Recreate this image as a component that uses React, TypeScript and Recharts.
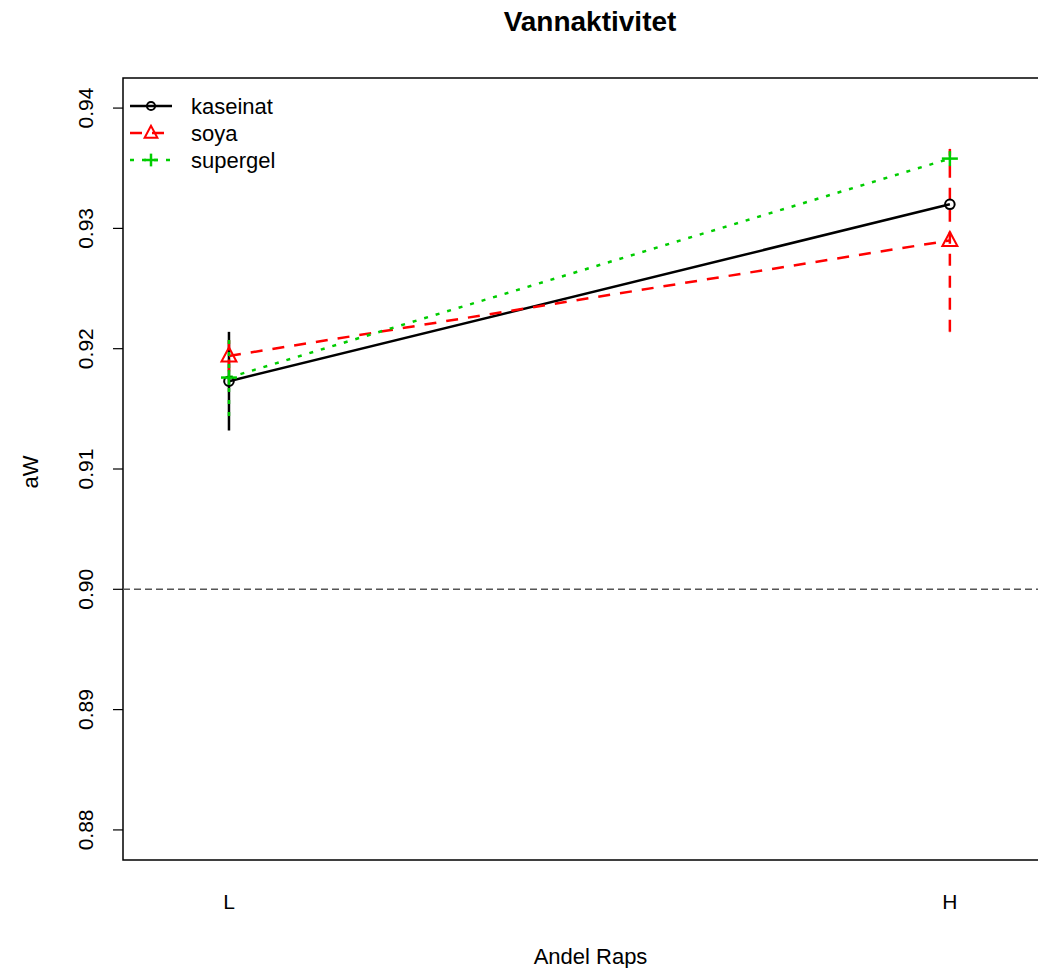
import React from 'react';
import {
  LineChart,
  Line,
  XAxis,
  YAxis,
  ReferenceLine,
  ReferenceArea,
  ErrorBar,
  Legend,
  Label,
} from 'recharts';

// factor levels on the x axis (interaction plot, positions 1 and 2)
const levels = ['L', 'H'];
const levelPos = [1, 2];

// mean aW per group, with half-width of the error bar
const kaseinat = [0.9173, 0.932];
const kaseinatErr = [0.0041, 0];
const soya = [0.9194, 0.929];
const soyaErr = [0.0013, 0.0076];
const supergel = [0.9176, 0.9358];
const supergelErr = [0.0032, 0];

const yTicks = [0.88, 0.89, 0.9, 0.91, 0.92, 0.93, 0.94];
const yDomain = [0.8775, 0.9425];
const xDomain = [0.853, 2.15];
const refLevel = 0.9;

const FONT = '"Liberation Sans", Arial, sans-serif';

const data = levels.map((lv, i) => ({
  x: levelPos[i],
  level: lv,
  kaseinat: kaseinat[i],
  kaseinatErr: kaseinatErr[i],
  soya: soya[i],
  soyaErr: soyaErr[i],
  supergel: supergel[i],
  supergelErr: supergelErr[i],
}));

type Marker = 'circle' | 'triangle' | 'plus';

const series: Array<{ key: string; name: string; color: string; dash?: string; marker: Marker }> = [
  { key: 'kaseinat', name: 'kaseinat', color: '#000000', marker: 'circle' },
  { key: 'soya', name: 'soya', color: '#ff0000', dash: '12 10', marker: 'triangle' },
  { key: 'supergel', name: 'supergel', color: '#00cd00', dash: '4 8', marker: 'plus' },
];

function drawMarker(kind: Marker, cx: number, cy: number, color: string, s = 1, key?: any) {
  if (kind === 'circle') {
    return <circle key={key} cx={cx} cy={cy} r={4.8 * s} fill="none" stroke={color} strokeWidth={2} />;
  }
  if (kind === 'triangle') {
    const pts = `${cx},${cy - 8.5 * s} ${cx - 7.5 * s},${cy + 5.5 * s} ${cx + 7.5 * s},${cy + 5.5 * s}`;
    return <polygon key={key} points={pts} fill="none" stroke={color} strokeWidth={2} />;
  }
  return (
    <g key={key}>
      <line x1={cx - 8 * s} x2={cx + 8 * s} y1={cy} y2={cy} stroke={color} strokeWidth={2.5} />
      <line x1={cx} x2={cx} y1={cy - 7.5 * s} y2={cy + 7.5 * s} stroke={color} strokeWidth={2.5} />
    </g>
  );
}

const YTick = (props: any) => {
  const { x, y, payload } = props;
  const tx = x - 20;
  return (
    <text x={tx} y={y} transform={`rotate(-90 ${tx} ${y})`} textAnchor="middle" fontSize={21} fontFamily={FONT} fill="#000">
      {payload.value.toFixed(2)}
    </text>
  );
};

const XTick = (props: any) => {
  const { x, y, payload } = props;
  const idx = levelPos.indexOf(payload.value);
  return (
    <text x={x} y={y + 49} textAnchor="middle" fontSize={21} fontFamily={FONT} fill="#000">
      {levels[idx]}
    </text>
  );
};

const YTitle = (props: any) => {
  const vb = props.viewBox;
  const tx = vb.x + 38;
  const ty = vb.y + vb.height / 2 + 3;
  return (
    <text x={tx} y={ty} transform={`rotate(-90 ${tx} ${ty})`} textAnchor="middle" fontSize={22} fontFamily={FONT} fill="#000">
      aW
    </text>
  );
};

const XTitle = (props: any) => {
  const vb = props.viewBox;
  return (
    <text x={vb.x + vb.width / 2} y={vb.y + 104} textAnchor="middle" fontSize={22} fontFamily={FONT} fill="#000">
      Andel Raps
    </text>
  );
};

const LegendBox = () => (
  <svg width={220} height={90} style={{ display: 'block' }}>
    {series.map((s, i) => {
      const ry = 14 + i * 27;
      return (
        <g key={s.key}>
          <line x1={2} x2={44} y1={ry} y2={ry} stroke={s.color} strokeWidth={2.5} strokeDasharray={s.dash} />
          {drawMarker(s.marker, 23, ry, s.color, 0.85)}
          <text x={63} y={ry + 8} fontSize={22} fontFamily={FONT} fill="#000">
            {s.name}
          </text>
        </g>
      );
    })}
  </svg>
);

export default function App() {
  return (
    <div style={{ position: 'absolute', left: 0, top: 0, width: 1038, height: 968, overflow: 'hidden', background: '#fff' }}>
      <div
        style={{
          position: 'absolute',
          left: 590,
          top: 6,
          transform: 'translateX(-50%)',
          fontFamily: FONT,
          fontWeight: 'bold',
          fontSize: 28,
          whiteSpace: 'nowrap',
          color: '#000',
        }}
      >
        Vannaktivitet
      </div>
      <LineChart width={1078} height={968} data={data} margin={{ top: 78, right: 20, bottom: 0, left: 0 }}>
        <XAxis
          dataKey="x"
          type="number"
          domain={xDomain}
          ticks={levelPos}
          allowDataOverflow
          axisLine={false}
          tickLine={false}
          tickSize={0}
          tickMargin={0}
          height={108}
          tick={<XTick />}
        >
          <Label content={<XTitle />} />
        </XAxis>
        <YAxis
          type="number"
          domain={yDomain}
          ticks={yTicks}
          allowDataOverflow
          axisLine={false}
          tickSize={10}
          tickMargin={0}
          tickLine={{ stroke: '#000', strokeWidth: 1.2 }}
          width={123}
          tick={<YTick />}
        >
          <Label content={<YTitle />} />
        </YAxis>
        <ReferenceArea
          x1={xDomain[0]}
          x2={xDomain[1]}
          y1={yDomain[0]}
          y2={yDomain[1]}
          fill="none"
          stroke="#000"
          strokeWidth={1.5}
          ifOverflow="visible"
        />
        <ReferenceLine y={refLevel} stroke="#555" strokeWidth={1.4} strokeDasharray="7 4" />
        {series.map((s) => (
          <Line
            key={s.key}
            dataKey={s.key}
            type="linear"
            stroke={s.color}
            strokeWidth={2.5}
            strokeDasharray={s.dash}
            isAnimationActive={false}
            activeDot={false}
            dot={(p: any) => drawMarker(s.marker, p.cx, p.cy, s.color, 1, `${s.key}-${p.index}`)}
          >
            <ErrorBar
              dataKey={`${s.key}Err`}
              direction="y"
              width={0}
              stroke={s.color}
              strokeWidth={2.5}
              strokeDasharray={s.dash}
              isAnimationActive={false}
            />
          </Line>
        ))}
        <Legend
          layout="vertical"
          align="center"
          verticalAlign="middle"
          wrapperStyle={{ left: 128, top: 92, width: 220 }}
          content={<LegendBox />}
        />
      </LineChart>
    </div>
  );
}
